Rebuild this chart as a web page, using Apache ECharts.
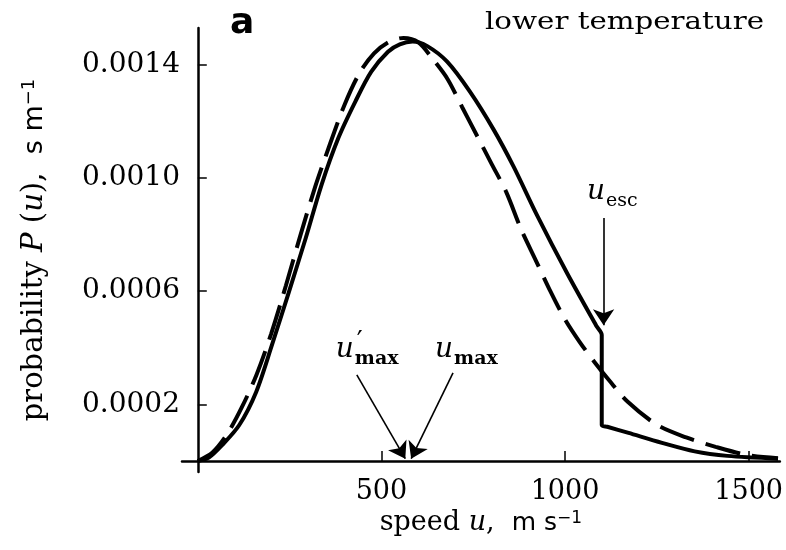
<!DOCTYPE html>
<html><head><meta charset="utf-8">
<script src="https://cdn.jsdelivr.net/npm/echarts@6/dist/echarts.min.js"></script>
<style>html,body{margin:0;padding:0;background:#fff}#c{width:786px;height:550px}</style>
</head><body><div id="c"></div>
<script>
// Solid curve: distribution with escape cut at u_esc
const speedSolid = [0, 30, 67, 113, 159, 202, 248, 294, 337, 383, 429, 472, 518, 550, 585, 625, 679, 741, 806, 860, 925, 1005, 1085, 1100, 1100, 1115, 1173, 1264, 1353, 1442, 1580];
const probSolid  = [0, 0.000012, 0.000057, 0.000127, 0.000244, 0.00041, 0.000597, 0.000788, 0.000976, 0.001142, 0.00127, 0.001375, 0.001446, 0.001472, 0.001482, 0.001466, 0.001411, 0.001305, 0.00117, 0.00104, 0.000865, 0.000665, 0.000478, 0.000445, 0.000127, 0.000121, 0.000099, 0.000064, 0.000034, 0.000018, 0.000008];
// Dashed curve: Maxwell distribution
const speedDashed = [0, 40, 80, 120, 160, 200, 240, 280, 320, 360, 400, 440, 480, 520, 560, 600, 640, 680, 720, 760, 800, 840, 880, 920, 960, 1000, 1040, 1080, 1120, 1170, 1250, 1330, 1410, 1500, 1580];
const probDashed  = [0, 0.00003, 0.000095, 0.00019, 0.000305, 0.00045, 0.00062, 0.0008, 0.00097, 0.00112, 0.00126, 0.00137, 0.00144, 0.00148, 0.001495, 0.00148, 0.00142, 0.00135, 0.00125, 0.00115, 0.00105, 0.00095, 0.00082, 0.00071, 0.0006, 0.0005, 0.00042, 0.00035, 0.000285, 0.00021, 0.000128, 0.000083, 0.00005, 0.00002, 0.00001];
const xTickValues = [500, 1000, 1500];
const yTickValues = [0.0002, 0.0006, 0.0010, 0.0014];
const uEsc = 1100;
const uMaxPrime = 565;
const uMax = 581;

const serif = "'DejaVu Serif', serif";
const sans = "'DejaVu Sans', sans-serif";

const chart = echarts.init(document.getElementById('c'), null, {renderer: 'canvas'});

function richSet(size) {
  return {
    r: {fontFamily: serif, fontSize: size, color: '#000'},
    i: {fontFamily: serif, fontStyle: 'italic', fontSize: size, color: '#000'},
    s: {fontFamily: sans, fontSize: size - 2, color: '#000'},
    sup: {fontFamily: sans, fontSize: Math.round(size * 0.62), color: '#000', verticalAlign: 'top'}
  };
}

const arrowStyle = {color: '#000', width: 1.6, type: 'solid'};

const option = {
  animation: false,
  backgroundColor: '#fff',
  grid: {left: 182, right: 2, top: 28, bottom: 78, containLabel: false},
  xAxis: {
    type: 'value', min: -43, max: 1585,
    axisLine: {onZero: true, lineStyle: {color: '#000', width: 2.5}},
    axisTick: {inside: true, length: 10, customValues: xTickValues, lineStyle: {color: '#000', width: 1.5}},
    axisLabel: {customValues: xTickValues, color: '#000', fontFamily: serif, fontSize: 27, margin: 6,
      formatter: v => String(v)},
    splitLine: {show: false},
    name: '{r|speed }{i|u}{r|,  }{s|m s}{sup|−1}',
    nameLocation: 'middle', nameGap: 37,
    nameTextStyle: {rich: richSet(27)}
  },
  yAxis: {
    type: 'value', min: -0.000039, max: 0.00153,
    axisLine: {onZero: true, lineStyle: {color: '#000', width: 2.5}},
    axisTick: {inside: true, length: 9, customValues: yTickValues, lineStyle: {color: '#000', width: 1.5}},
    axisLabel: {customValues: yTickValues, color: '#000', fontFamily: serif, fontSize: 28, margin: 2,
      formatter: v => v.toFixed(4)},
    splitLine: {show: false},
    name: '{r|probability }{i|P}{r| (}{i|u}{r|),  }{s|s m}{sup|−1}',
    nameLocation: 'middle', nameGap: 133,
    nameTextStyle: {rich: richSet(29)}
  },
  series: [
    {
      type: 'line', name: 'solid',
      data: speedSolid.map((u, i) => [u, probSolid[i]]),
      symbol: 'none', smooth: 0.3,
      lineStyle: {color: '#000', width: 4, join: 'round'},
      z: 3,
      markLine: {
        silent: true, symbol: ['none', 'arrow'], symbolSize: 16,
        label: {show: false}, lineStyle: arrowStyle,
        data: [
          [{coord: [433, 0.000304]}, {coord: [uMaxPrime, 0.000008]}],
          [{coord: [695, 0.000311]}, {coord: [uMax, 0.000008]}],
          [{coord: [uEsc + 5, 0.000859]}, {coord: [uEsc + 5, 0.00048]}]
        ]
      }
    },
    {
      type: 'line', name: 'dashed',
      data: speedDashed.map((u, i) => [u, probDashed[i]]),
      symbol: 'none', smooth: 0.3,
      lineStyle: {color: '#000', width: 4, type: [36, 12], cap: 'butt'},
      z: 2
    }
  ]
};
chart.setOption(option);

// Annotations placed through the chart's own coordinate conversion
function px(u, p) { return chart.convertToPixel({xAxisIndex: 0, yAxisIndex: 0}, [u, p]); }
function subLabel(anchor, main, sub, prime, subBold) {
  const [x, y] = px(anchor[0], anchor[1]);
  const children = [
    {type: 'text', x: 0, y: 0, style: {text: main, font: "italic 28px 'DejaVu Serif'", fill: '#000', align: 'left', verticalAlign: 'middle'}},
    {type: 'text', x: 19, y: 9, style: {text: sub, font: (subBold ? 'bold ' : '') + "19px 'DejaVu Serif'", fill: '#000', align: 'left', verticalAlign: 'middle'}}
  ];
  if (prime) children.push({type: 'text', x: 21, y: -8, style: {text: '′', font: "26px 'DejaVu Serif'", fill: '#000', align: 'left', verticalAlign: 'middle'}});
  return {type: 'group', x: x, y: y, children: children};
}
const graphics = [
  subLabel([376, 0.000392], 'u', 'max', true, true),
  subLabel([646, 0.000392], 'u', 'max', false, true),
  subLabel([1060, 0.000951], 'u', 'esc', false, false),
  {type: 'text', x: 230, y: 24, style: {text: 'a', font: "bold 36px 'DejaVu Sans'", fill: '#000', align: 'left', verticalAlign: 'middle'}},
  {type: 'text', x: 485, y: 23, scaleX: 1.22, style: {text: 'lower temperature', font: "24px 'DejaVu Serif'", fill: '#000', align: 'left', verticalAlign: 'middle'}}
];
chart.setOption({graphic: graphics});
</script>
</body></html>
